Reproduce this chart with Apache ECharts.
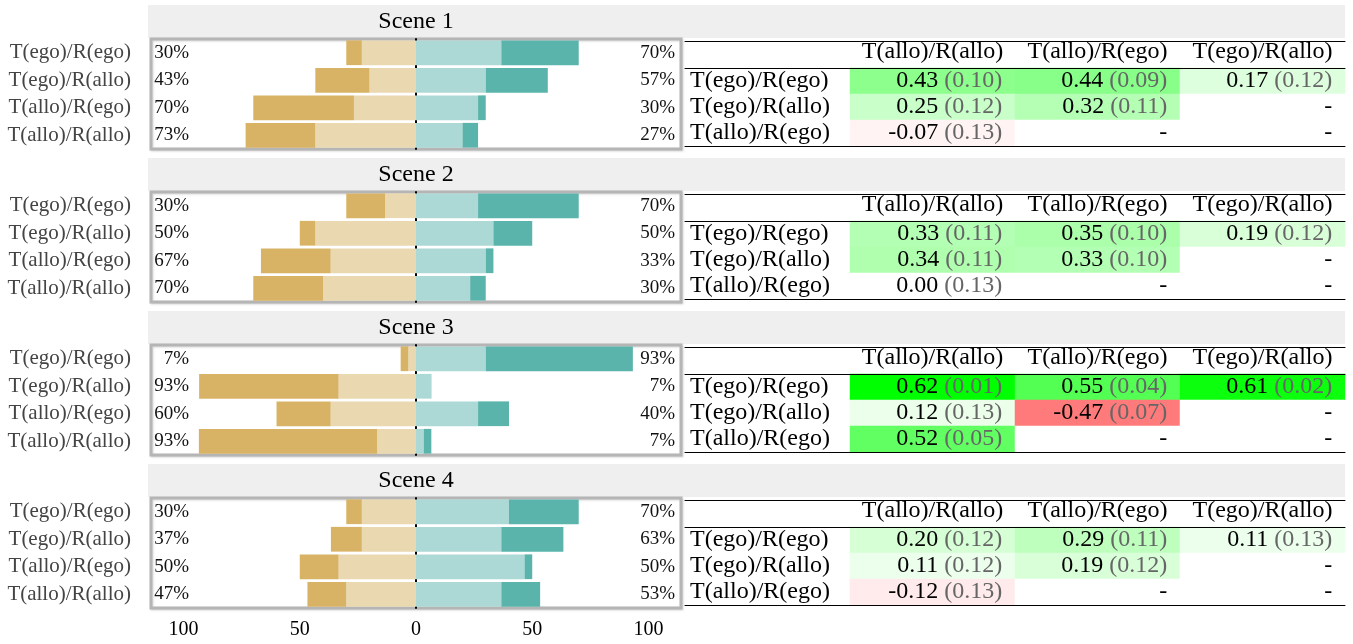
<!DOCTYPE html>
<html>
<head>
<meta charset="utf-8">
<script src="https://cdn.jsdelivr.net/npm/echarts@6/dist/echarts.min.js"></script>
<style>
  html, body { margin: 0; padding: 0; background: #fff; }
  #main { width: 1353px; height: 644px; }
</style>
</head>
<body>
<div id="main"></div>
<script>
  // scenes and row/column names
  const scenes = ['Scene 1', 'Scene 2', 'Scene 3', 'Scene 4'];
  const rowNames = ['T(ego)/R(ego)', 'T(ego)/R(allo)', 'T(allo)/R(ego)', 'T(allo)/R(allo)'];
  const colNames = ['T(allo)/R(allo)', 'T(allo)/R(ego)', 'T(ego)/R(allo)'];
  const tableRows = ['T(ego)/R(ego)', 'T(ego)/R(allo)', 'T(allo)/R(ego)'];
  const tickValues = [-100, -50, 0, 50, 100];

  // share of participants (%) per scene, per row
  const leftLight = [[23.3, 20, 26.7, 43.3], [13.3, 43.3, 36.7, 40], [3.3, 33.3, 36.7, 16.7], [23.3, 23.3, 33.3, 30]];
  const leftDark = [[6.7, 23.3, 43.3, 30], [16.7, 6.7, 30, 30], [3.3, 60, 23.3, 76.7], [6.7, 13.3, 16.7, 16.7]];
  const rightLight = [[36.7, 30, 26.7, 20], [26.7, 33.3, 30, 23.3], [30, 6.7, 26.7, 3.3], [40, 36.7, 46.7, 36.7]];
  const rightDark = [[33.3, 26.7, 3.3, 6.7], [43.3, 16.7, 3.3, 6.7], [63.3, 0, 13.3, 3.3], [30, 26.7, 3.3, 16.7]];

  // correlation (sd) tables, null = '-'
  const corr = [
    [[0.43, 0.44, 0.17], [0.25, 0.32, null], [-0.07, null, null]],
    [[0.33, 0.35, 0.19], [0.34, 0.33, null], [0.00, null, null]],
    [[0.62, 0.55, 0.61], [0.12, -0.47, null], [0.52, null, null]],
    [[0.20, 0.29, 0.11], [0.11, 0.19, null], [-0.12, null, null]]
  ];
  const sd = [
    [[0.10, 0.09, 0.12], [0.12, 0.11, null], [0.13, null, null]],
    [[0.11, 0.10, 0.12], [0.11, 0.10, null], [0.13, null, null]],
    [[0.01, 0.04, 0.02], [0.13, 0.07, null], [0.05, null, null]],
    [[0.12, 0.11, 0.13], [0.12, 0.12, null], [0.13, null, null]]
  ];

  const FONT = 'Liberation Serif';
  const STEP = 153;
  const colors = ['#ead8b1', '#d8b365', '#acd9d5', '#5ab4ac'];

  // colour strength of a table cell
  function cellColor(v) {
    if (v == null) return '#ffffff';
    const stops = [[0, 0], [0.12, 0.08], [0.25, 0.21], [0.33, 0.3], [0.43, 0.45], [0.55, 0.67], [0.62, 1]];
    const x = Math.min(Math.abs(v), 0.62);
    let a = 1;
    for (let i = 1; i < stops.length; i++) {
      if (x <= stops[i][0]) {
        const t = (x - stops[i - 1][0]) / (stops[i][0] - stops[i - 1][0]);
        a = stops[i - 1][1] + t * (stops[i][1] - stops[i - 1][1]);
        break;
      }
    }
    const c = Math.round(255 * (1 - a));
    return v >= 0 ? 'rgb(' + c + ',255,' + c + ')' : 'rgb(255,' + c + ',' + c + ')';
  }

  let grid = [], xAxis = [], yAxis = [], series = [], graphic = [];

  scenes.forEach(function (name, s) {
    const off = STEP * s;

    // title band
    graphic.push({
      type: 'rect', z: -10, silent: true,
      shape: {x: 148, y: 5 + off, width: 1197, height: 33},
      style: {fill: '#efefef'}
    });
    graphic.push({
      type: 'text', x: 416, y: 22 + off, silent: true,
      style: {text: name, fill: '#000', fontSize: 24, fontFamily: FONT, align: 'center', verticalAlign: 'middle'}
    });

    // bar panel
    const gb = grid.length;
    grid.push({
      left: 151, top: 39 + off, width: 530, height: 110,
      show: true, backgroundColor: '#fff', borderColor: '#b5b5b5', borderWidth: 3,
      shadowBlur: 2, shadowOffsetX: 1, shadowOffsetY: 1, shadowColor: 'rgba(0,0,0,0.15)'
    });
    const xb = xAxis.length;
    xAxis.push({
      gridIndex: gb, type: 'value', min: -114, max: 114,
      axisLine: {show: false}, axisTick: {show: false}, splitLine: {show: false},
      axisLabel: s === 3 ? {
        customValues: tickValues, margin: 12, fontSize: 20, color: '#000', fontFamily: FONT,
        formatter: function (v) { return Math.abs(v); }
      } : {show: false}
    });
    const yb = yAxis.length;
    yAxis.push({
      gridIndex: gb, type: 'category', data: rowNames, inverse: true, position: 'left',
      axisLine: {show: false, onZero: false}, axisTick: {show: false},
      axisLabel: {interval: 0, margin: 20, fontSize: 21, color: '#444', fontFamily: FONT, padding: [5, 0, 0, 0]}
    });
    yAxis.push({
      gridIndex: gb, type: 'category', inverse: true, position: 'left',
      data: leftLight[s].map(function (v, i) { return Math.round(v + leftDark[s][i]) + '%'; }),
      axisLine: {show: false, onZero: false}, axisTick: {show: false},
      axisLabel: {interval: 0, inside: true, margin: 38, align: 'right', fontSize: 19, color: '#111', fontFamily: FONT, padding: [5, 0, 0, 0]}
    });
    yAxis.push({
      gridIndex: gb, type: 'category', inverse: true, position: 'right',
      data: rightLight[s].map(function (v, i) { return Math.round(v + rightDark[s][i]) + '%'; }),
      axisLine: {show: false, onZero: false}, axisTick: {show: false},
      axisLabel: {interval: 0, inside: true, margin: 6, align: 'right', fontSize: 19, color: '#111', fontFamily: FONT, padding: [5, 0, 0, 0]}
    });
    yAxis.push({
      gridIndex: gb, type: 'category', data: rowNames, inverse: true, z: 1,
      axisLine: {show: true, onZero: true, lineStyle: {color: '#000', width: 2}},
      axisTick: {show: false}, axisLabel: {show: false}
    });

    [leftLight[s].map(function (v) { return -v; }), leftDark[s].map(function (v) { return -v; }),
      rightLight[s], rightDark[s]].forEach(function (d, k) {
      series.push({
        type: 'bar', xAxisIndex: xb, yAxisIndex: yb, stack: 'b' + s, data: d,
        barCategoryGap: '10%', silent: true, z: 2,
        itemStyle: {color: colors[k]}
      });
    });

    // table
    const gt = grid.length;
    grid.push({left: 685, top: 68 + off, width: 660, height: 78});
    const xt = xAxis.length;
    const cols = [''].concat(colNames);
    xAxis.push({
      gridIndex: gt, type: 'category', data: cols, position: 'top', z: 3,
      axisLine: {show: true, lineStyle: {color: '#000', width: 1}}, axisTick: {show: false},
      axisLabel: {interval: 0, margin: 4, fontSize: 24, color: '#000', fontFamily: FONT}
    });
    xAxis.push({
      gridIndex: gt, type: 'category', data: cols, position: 'top', offset: 27, z: 3,
      axisLine: {show: true, lineStyle: {color: '#000', width: 1}}, axisTick: {show: false},
      axisLabel: {show: false}
    });
    xAxis.push({
      gridIndex: gt, type: 'category', data: cols, position: 'bottom', z: 3,
      axisLine: {show: true, lineStyle: {color: '#000', width: 1}}, axisTick: {show: false},
      axisLabel: {show: false}
    });
    const yt = yAxis.length;
    yAxis.push({
      gridIndex: gt, type: 'category', data: tableRows, inverse: true,
      axisLine: {show: false}, axisTick: {show: false},
      axisLabel: {interval: 0, inside: true, margin: 5, align: 'left', fontSize: 24, color: '#000', fontFamily: FONT}
    });

    const cells = [];
    corr[s].forEach(function (row, r) {
      row.forEach(function (v, c) {
        cells.push({
          value: [c + 1, r, v == null ? 0 : v],
          itemStyle: {color: cellColor(v)},
          label: {formatter: v == null ? '{v|-}' : '{v|' + v.toFixed(2) + ' }{s|(' + sd[s][r][c].toFixed(2) + ')}'}
        });
      });
    });
    series.push({
      type: 'heatmap', xAxisIndex: xt, yAxisIndex: yt, data: cells, silent: true, z: 2,
      label: {
        show: true, position: 'insideRight', distance: 13,
        rich: {
          v: {fontSize: 24, color: '#000', fontFamily: FONT},
          s: {fontSize: 24, color: '#666', fontFamily: FONT}
        }
      },
      emphasis: {disabled: true}
    });
  });

  const chart = echarts.init(document.getElementById('main'));
  chart.setOption({
    animation: false,
    grid: grid,
    xAxis: xAxis,
    yAxis: yAxis,
    series: series,
    graphic: graphic
  });
</script>
</body>
</html>
